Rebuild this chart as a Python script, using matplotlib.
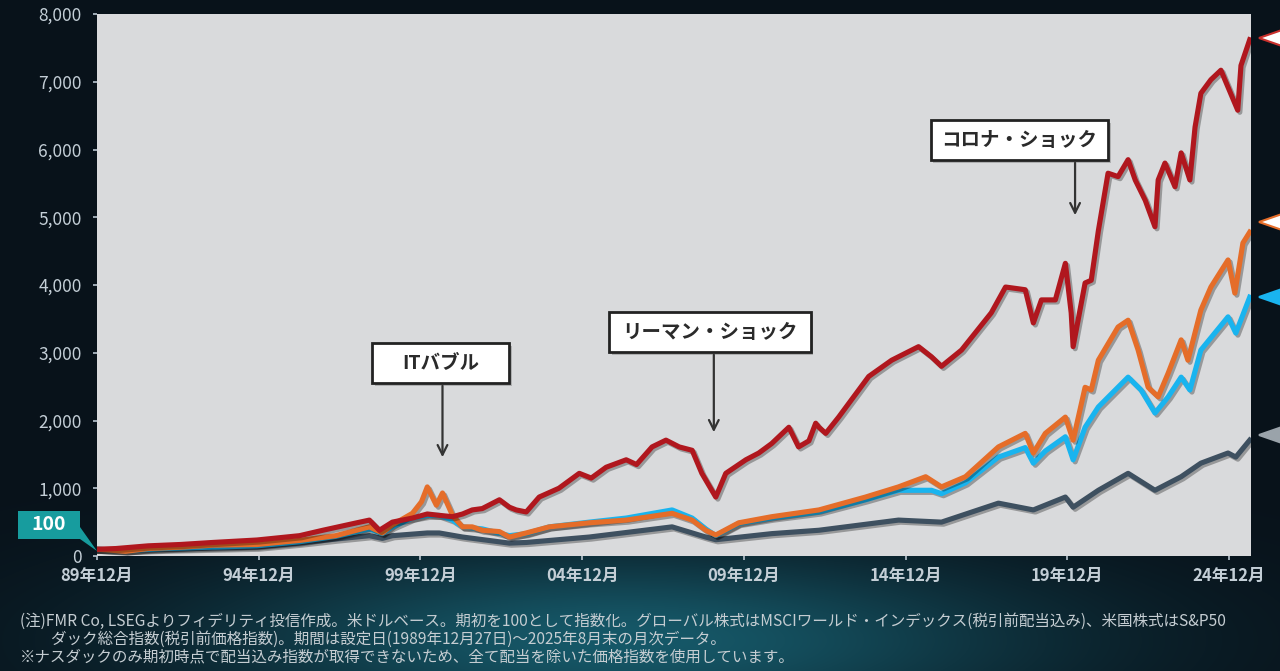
import matplotlib
matplotlib.use("Agg")
import matplotlib.pyplot as plt
import matplotlib.patheffects as pe
from matplotlib.patches import Polygon, Rectangle
import numpy as np

# ---------------- data (decimal years, index values; start = 100) ----------------
red_t = [1989.92, 1990.5, 1991.5, 1992.5, 1993.5, 1994.86, 1996.18, 1996.9, 1997.95, 1998.34,
         1998.65, 1999.05, 1999.67, 2000.13, 2000.5, 2000.91, 2001.22, 2001.52, 2001.83, 2002.36,
         2002.67, 2002.88, 2003.19, 2003.59, 2004.2, 2004.83, 2005.2, 2005.66, 2006.28, 2006.6,
         2007.08, 2007.51, 2007.92, 2008.32, 2008.62, 2009.05, 2009.36, 2009.98, 2010.38, 2010.78,
         2011.31, 2011.61, 2011.93, 2012.14, 2012.24, 2012.45, 2012.85, 2013.78, 2014.49, 2015.32,
         2015.72, 2016.03, 2016.65, 2017.57, 2018.01, 2018.62, 2018.87, 2019.12, 2019.55, 2019.86,
         2020.04, 2020.10, 2020.47, 2020.66, 2020.88, 2021.18, 2021.49, 2021.80, 2022.02, 2022.33,
         2022.63, 2022.73, 2022.94, 2023.25, 2023.44, 2023.71, 2023.87, 2024.05, 2024.36, 2024.67,
         2024.89, 2025.19, 2025.29, 2025.56]
red_v = [100, 110, 150, 170, 200, 236, 300, 380, 490, 530,
         380, 500, 560, 620, 600, 580, 620, 680, 700, 830,
         720, 680, 650, 870, 1000, 1220, 1150, 1310, 1420, 1350,
         1610, 1710, 1610, 1560, 1220, 870, 1220, 1420, 1520, 1660,
         1900, 1610, 1700, 1960, 1900, 1810, 2050, 2650, 2890, 3090,
         2940, 2800, 3040, 3590, 3970, 3930, 3440, 3780, 3780, 4320,
         3590, 3090, 4030, 4070, 4800, 5650, 5600, 5850, 5550, 5250,
         4860, 5550, 5800, 5450, 5950, 5550, 6330, 6830, 7030, 7170,
         6920, 6580, 7240, 7620]

orange_t = [1989.92, 1990.8, 1991.5, 1992.5, 1993.5, 1994.86, 1996.18, 1997.3, 1998.34, 1998.74,
            1999.05, 1999.67, 1999.95, 2000.13, 2000.41, 2000.6, 2000.91, 2001.03, 2001.22, 2001.52,
            2001.83, 2002.36, 2002.67, 2003.19, 2003.9, 2005.14, 2006.28, 2007.70, 2008.32, 2008.74,
            2009.05, 2009.76, 2010.78, 2012.24, 2013.68, 2014.70, 2015.54, 2016.03, 2016.77, 2017.79,
            2018.62, 2018.87, 2019.24, 2019.86, 2020.10, 2020.47, 2020.66, 2020.88, 2021.49, 2021.80,
            2022.11, 2022.42, 2022.73, 2023.04, 2023.44, 2023.65, 2024.05, 2024.36, 2024.89, 2025.10,
            2025.35, 2025.56]
orange_v = [100, 70, 110, 130, 160, 170, 230, 300, 430, 340,
            460, 630, 800, 1020, 750, 930, 600, 530, 430, 430,
            380, 360, 280, 340, 430, 490, 530, 630, 530, 380,
            310, 490, 580, 680, 870, 1020, 1170, 1020, 1170, 1610,
            1810, 1520, 1810, 2050, 1710, 2490, 2450, 2890, 3380, 3480,
            3040, 2490, 2350, 2700, 3190, 2890, 3630, 3970, 4370, 3880,
            4620, 4780]

blue_t = [1989.92, 1990.8, 1992.0, 1994.86, 1996.18, 1997.3, 1998.34, 1998.74, 1999.05, 1999.67,
          2000.13, 2000.5, 2000.91, 2001.22, 2001.83, 2002.67, 2003.19, 2003.9, 2005.14, 2006.28,
          2007.70, 2008.32, 2008.74, 2009.05, 2009.76, 2010.78, 2012.24, 2013.68, 2014.70, 2015.72,
          2016.03, 2016.77, 2017.79, 2018.62, 2018.87, 2019.24, 2019.86, 2020.10, 2020.47, 2020.88,
          2021.80, 2022.20, 2022.63, 2023.04, 2023.44, 2023.71, 2024.05, 2024.89, 2025.13, 2025.56]
blue_v = [100, 80, 110, 150, 210, 290, 400, 330, 430, 560,
          600, 600, 530, 430, 400, 300, 330, 430, 500, 560,
          680, 560, 400, 300, 480, 560, 650, 830, 970, 970,
          920, 1080, 1460, 1600, 1370, 1550, 1760, 1420, 1900, 2200,
          2640, 2450, 2110, 2350, 2640, 2450, 3040, 3530, 3290, 3820]

grey_t = [1989.92, 1990.8, 1992.0, 1994.86, 1996.18, 1997.3, 1998.34, 1998.74, 1999.05, 2000.13,
          2000.5, 2001.22, 2002.67, 2003.19, 2005.14, 2007.70, 2008.74, 2009.05, 2010.78, 2012.24,
          2014.70, 2016.03, 2017.79, 2018.87, 2019.86, 2020.10, 2020.88, 2021.80, 2022.63, 2023.44,
          2024.05, 2024.89, 2025.13, 2025.56]
grey_v = [100, 80, 100, 130, 190, 250, 300, 260, 300, 340,
          340, 280, 190, 200, 280, 430, 280, 240, 330, 380,
          530, 500, 780, 680, 870, 720, 970, 1220, 970, 1170,
          1370, 1520, 1460, 1710]

x_tick_labels = ["89年12月", "94年12月", "99年12月", "04年12月", "09年12月", "14年12月", "19年12月", "24年12月"]
y_ticks = [0, 1000, 2000, 3000, 4000, 5000, 6000, 7000, 8000]

events = ["ITバブル", "リーマン・ショック", "コロナ・ショック"]

notes = [
    "(注)FMR Co, LSEGよりフィデリティ投信作成。米ドルベース。期初を100として指数化。グローバル株式はMSCIワールド・インデックス(税引前配当込み)、米国株式はS&P50",
    "　　ダック総合指数(税引前価格指数)。期間は設定日(1989年12月27日)～2025年8月末の月次データ。",
    "※ナスダックのみ期初時点で配当込み指数が取得できないため、全て配当を除いた価格指数を使用しています。",
]

# ---------------- figure ----------------
plt.rcParams["font.family"] = ["Noto Sans CJK JP", "DejaVu Sans"]
W, H = 1280, 671
fig = plt.figure(figsize=(12.8, 6.71), dpi=100)
fig.patch.set_facecolor("#08121a")

# dark background with a faint teal glow near the bottom
bg = fig.add_axes([0, 0, 1, 1], zorder=-10)
yy, xx = np.mgrid[0:H, 0:W]
glow = np.exp(-(((xx - 620) / 420.0) ** 2 + ((yy - 640) / 90.0) ** 2))
base = np.array([8, 18, 26]) / 255.0
teal = np.array([22, 88, 104]) / 255.0
img = base + glow[..., None] * (teal - base)
bg.imshow(img, extent=[0, 1, 0, 1], aspect="auto")
bg.axis("off")

ax = fig.add_axes([97 / W, 1 - 556 / H, (1251 - 97) / W, (556 - 14) / H])
ax.set_facecolor("#d9dadc")
for s in ax.spines.values():
    s.set_visible(False)

lw = 3.7
shadow = [pe.SimpleLineShadow(offset=(1.5, -1.5), shadow_color="black", alpha=0.3), pe.Normal()]
ax.plot(grey_t, grey_v, color="#3e5060", lw=lw, path_effects=shadow, solid_joinstyle="round", zorder=3)
ax.plot(blue_t, blue_v, color="#19b4ef", lw=lw, path_effects=shadow, solid_joinstyle="round", zorder=4)
ax.plot(orange_t, orange_v, color="#e56d29", lw=lw, path_effects=shadow, solid_joinstyle="round", zorder=5)
ax.plot(red_t, red_v, color="#b0171e", lw=lw, path_effects=shadow, solid_joinstyle="round", zorder=6)

x0 = 1989.917
ax.set_xlim(x0, 2025.6)
ax.set_ylim(0, 8000)
ax.set_xticks([x0 + 5 * k for k in range(len(x_tick_labels))])
ax.set_xticklabels(x_tick_labels, fontsize=12, fontweight="bold")
ax.set_yticks(y_ticks)
ax.set_yticklabels([f"{v:,}" for v in y_ticks], fontsize=12.5)
ax.tick_params(axis="both", colors="#b9c6d0", length=3, width=1.2, direction="out")
ax.tick_params(axis="y", pad=8)
ax.tick_params(axis="x", pad=5)
for lab in ax.get_yticklabels() + ax.get_xticklabels():
    lab.set_color("#c3ced6")

# event callouts (box extents and arrows in data units)
boxes = [
    (1998.43, 2002.66, 2553, 3144, 2000.60, 1417),
    (2005.75, 2011.98, 3011, 3601, 2008.99, 1786),
    (2015.69, 2021.18, 5845, 6435, 2020.16, 4989),
]
for label, (bx0, bx1, by0, by1, axx, tip) in zip(events, boxes):
    ax.add_patch(Rectangle((bx0, by0), bx1 - bx0, by1 - by0, facecolor="white",
                           edgecolor="#222222", lw=2, zorder=8,
                           path_effects=[pe.SimplePatchShadow(offset=(2, -2), alpha=0.3), pe.Normal()]))
    ax.text((bx0 + bx1) / 2, (by0 + by1) / 2, label, ha="center", va="center",
            fontsize=14, fontweight="bold", color="#2a2a2a", zorder=9)
    ax.annotate("", xy=(axx, tip), xytext=(axx, by0),
                arrowprops=dict(arrowstyle="->,head_length=0.7,head_width=0.35",
                                color="#333333", lw=1.6), zorder=9)

# "100" start marker
ft = fig.transFigure
def fp(px, py):
    return (px / W, 1 - py / H)
fig.patches.append(Polygon([fp(18, 511), fp(80, 511), fp(80, 527), fp(97, 551), fp(80, 539), fp(18, 539)],
                           closed=True, transform=ft, facecolor="#179c9e", edgecolor="none"))
fig.text(49 / W, 1 - 525 / H, "100", ha="center", va="center", fontsize=14,
         fontweight="bold", color="white")

# right-edge pointer markers (labels cut off in the source)
pointers = [(38, "#ffffff", "#c9302c"), (222, "#ffffff", "#e56d29"),
            (297, "#19b4ef", "#19b4ef"), (435, "#9aa3aa", "#9aa3aa")]
for py, fc, ec in pointers:
    fig.patches.append(Polygon([fp(1259, py), fp(1282, py - 8), fp(1282, py + 8)], closed=True,
                               transform=ft, facecolor=fc, edgecolor=ec, lw=1.5))

# footnotes
for i, line in enumerate(notes):
    fig.text(20 / W, 1 - (621 + 18 * i) / H, line, fontsize=11.2, color="#c5cdd2",
             va="center", ha="left")

fig.savefig("out.png", dpi=100, facecolor=fig.get_facecolor())
